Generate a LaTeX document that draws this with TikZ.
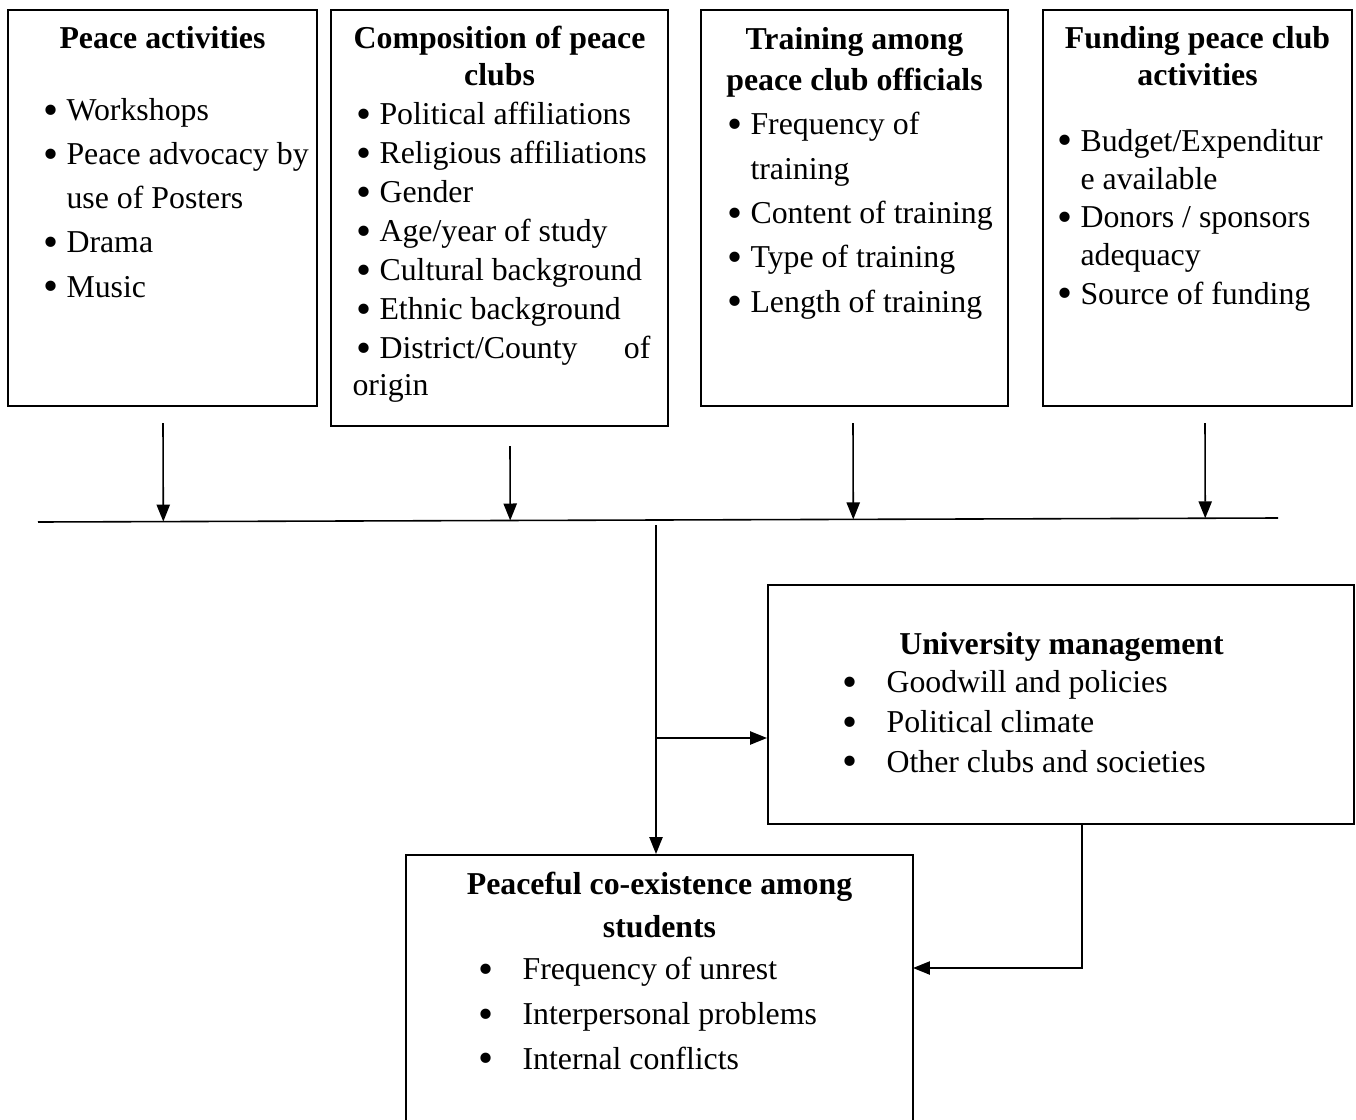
\documentclass[tikz,border=0pt]{standalone}
\usepackage{fontspec}
\usepackage{graphicx}
\setmainfont{Liberation Serif}
\usetikzlibrary{%
	calc,%
	fit,%
	arrows.meta
}
\newcommand{\bdot}{\raisebox{-1.4pt}{\scalebox{1.35}{\textbullet}}}
\newcommand{\bitem}{\bdot\ }
\newcommand{\bcont}{\phantom{\bdot\ }}
\newcommand{\wbul}{\makebox[16.6pt][l]{\bdot}}
\tikzset{
	box/.style={draw,line width=0.75pt,inner sep=0pt},
	ttl/.style={anchor=base,align=center,inner sep=0pt,font=\bfseries\fontsize{12}{#1}\selectfont},
	lst/.style={anchor=base west,align=left,inner sep=0pt,font=\fontsize{12}{#1}\selectfont},
	ln/.style={line width=0.6pt},
	arr/.style={line width=0.6pt,-{Triangle[length=6.4pt,width=5pt]}}
}

\begin{document}
\begin{tikzpicture}[x=0.377pt,y=-0.377pt]
	\useasboundingbox (0,0) rectangle (1356,1120);
	\clip (0,0) rectangle (1356,1120);
	% the six boxes
	\node[box,fit={(8,10) (317,406)}] (b1) {};
	\node[box,fit={(331,10) (668,426)}] (b2) {};
	\node[box,fit={(701,10) (1008,406)}] (b3) {};
	\node[box,fit={(1043,10) (1352,406)}] (b4) {};
	\node[box,fit={(406,855) (913,1140)}] (b5) {};
	\node[box,fit={(768,585) (1354,824)}] (b6) {};
	% texts (placed at the baseline of their last line)
	\node[ttl=13.95pt] (t1) at (162.5,49) {Peace activities};
	\node[lst=16.6pt] (l1) at (43,297) {\bitem Workshops\\\bitem Peace advocacy by\\\bcont use of Posters\\\bitem Drama\\\bitem Music};
	\node[ttl=13.95pt] (t2) at (499.5,86) {Composition of peace\\clubs};
	\node[lst=14.7pt] (l2) at (356,395) {\bitem Political affiliations\\\bitem Religious affiliations\\\bitem Gender\\\bitem Age/year of study\\\bitem Cultural background\\\bitem Ethnic background\\\makebox[110.8pt][l]{\bitem District/County\hfill of}\\[-1.1pt]\hspace*{-1.5pt}origin};
	\node[ttl=15.8pt] (t3) at (854.5,91) {Training among\\peace club officials};
	\node[lst=16.7pt] (l3) at (727,312) {\bitem Frequency of\\\bcont training\\\bitem Content of training\\\bitem Type of training\\\bitem Length of training};
	\node[ttl=13.95pt] (t4) at (1197.5,86) {Funding peace club\\activities};
	\node[lst=14.4pt] (l4) at (1057,304) {\bitem Budget/Expenditur\\\bcont e available\\\bitem Donors / sponsors\\\bcont adequacy\\\bitem Source of funding};
	\node[ttl=14pt] (t6) at (1061.5,654) {University management};
	\node[lst=14.9pt] (l6) at (842,772) {\wbul Goodwill and policies\\\wbul Political climate\\\wbul Other clubs and societies};
	\node[ttl=16.2pt] (t5) at (659.5,937) {Peaceful co-existence among\\students};
	\node[lst=16.8pt] (l5) at (478,1069) {\wbul Frequency of unrest\\\wbul Interpersonal problems\\\wbul Internal conflicts};
	% connectors
	\coordinate (bl) at (38,522);
	\coordinate (br) at (1278,518);
	\draw[ln] (bl) -- (br);
	\foreach \x/\y [count=\i] in {163/423,510/446,853/423,1205/423}
	{\coordinate (s\i) at (\x,\y);
		\draw[arr] (s\i) -- ($(bl)!(s\i)!(br)$);}
	\coordinate (m) at (656,525);
	\draw[arr] (m) -- (m |- b5.north);
	\coordinate (j) at (656,738);
	\draw[arr] (j) -- (j -| b6.west);
	\coordinate (k) at (1082,824);
	\coordinate (e) at (913,968);
	\draw[arr] (k) |- (e);
\end{tikzpicture}
\end{document}
